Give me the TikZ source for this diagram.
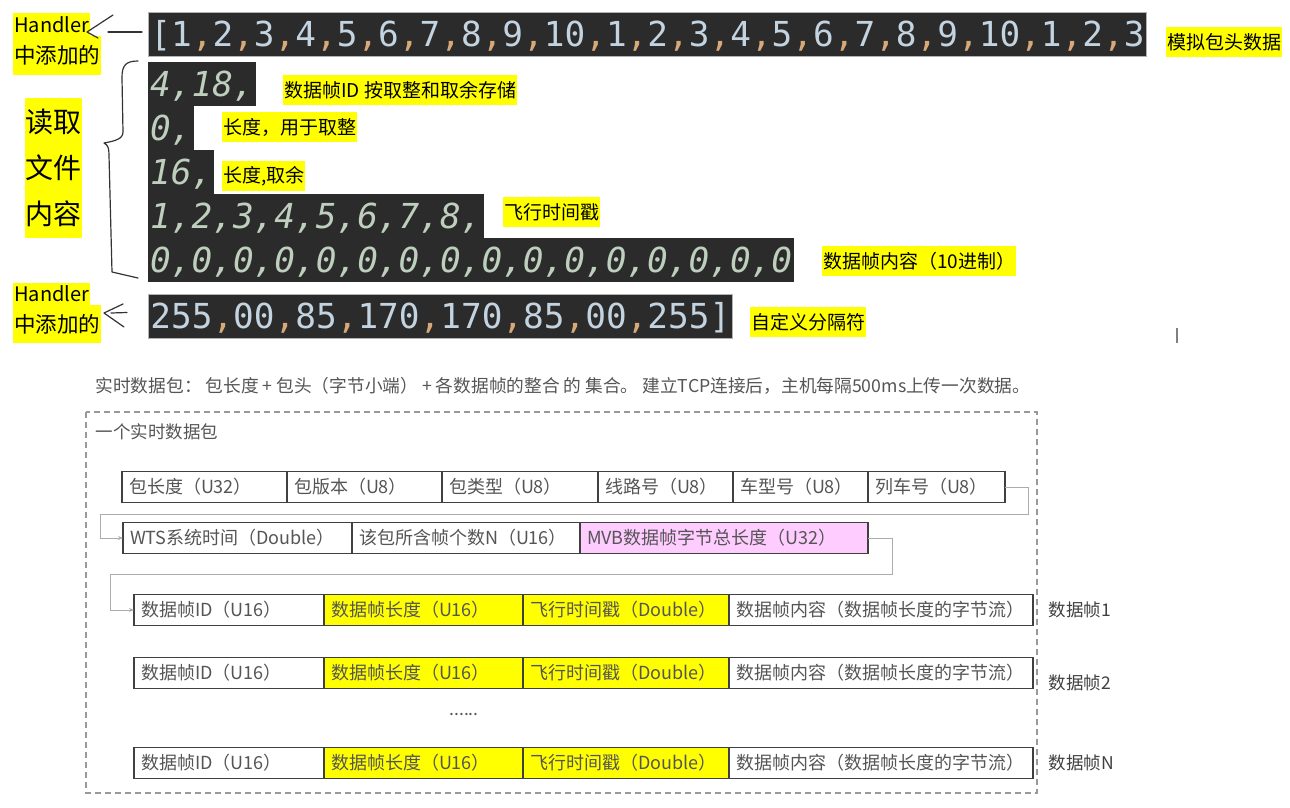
\documentclass[tikz,border=0pt]{standalone}
\usepackage{fontspec}
\setmainfont{Noto Sans CJK SC}
\newfontfamily\codefont{DejaVu Sans Mono}
\usetikzlibrary{positioning,arrows.meta}

\definecolor{codebg}{HTML}{2B2B2B}
\definecolor{numcol}{HTML}{C3D3E0}
\definecolor{commacol}{HTML}{D9A878}
\definecolor{italcol}{HTML}{BECFBE}
\definecolor{hl}{HTML}{FFFF00}
\definecolor{celltext}{HTML}{555555}
\definecolor{pinkcell}{HTML}{FFCCFF}

\newcommand\dcomma{\textcolor{commacol}{,}}
\newcommand\oneten{1\dcomma2\dcomma3\dcomma4\dcomma5\dcomma6\dcomma7\dcomma8\dcomma9\dcomma10}

\tikzset{
  codeblock/.style={fill=codebg, anchor=west, inner xsep=2pt, inner ysep=0pt,
    minimum height=44pt, text height=25pt, text depth=0pt},
  coderow/.style={codeblock, text=numcol, draw=gray!60, line width=0.8pt,
    font=\codefont\fontsize{34.4}{34.4}\selectfont},
  italrow/.style={codeblock, text=italcol,
    font=\codefont\itshape\fontsize{34.4}{34.4}\selectfont},
  hlnote/.style={fill=hl, anchor=west, inner xsep=1pt, inner ysep=0pt,
    minimum height=30pt, font=\fontsize{19}{19}\selectfont},
  fieldbox/.style={draw=black!75, line width=1.2pt, fill=white, anchor=west,
    outer sep=0pt, inner xsep=7pt, minimum height=31pt, text width=#1,
    align=left, text height=15pt, text depth=2pt, text=celltext,
    font=\fontsize{18}{18}\selectfont},
  framelab/.style={anchor=west, text=black!75, font=\fontsize{17.5}{17.5}\selectfont},
  flowline/.style={draw=gray!65, line width=1pt, -{Stealth[length=5pt,width=4pt]}},
  handline/.style={line width=1.2pt, black!80, line cap=round, line join=round},
}

\begin{document}
\begin{tikzpicture}[x=1pt,y=-1pt]
  \useasboundingbox (0,0) rectangle (1290,808);

  % code read from the file
  \node[coderow, minimum width=996pt] (hdr) at (148,34.5) {[\oneten\dcomma\oneten\dcomma1\dcomma2\dcomma3};
  \node[italrow] (fid) at (148,84) {4,18,};
  \node[italrow] (lenq) at (148,128) {0,};
  \node[italrow] (lenr) at (148,172) {16,};
  \node[italrow] (stamp) at (148,216) {1,2,3,4,5,6,7,8,};
  \node[italrow] (body) at (148,260) {0,0,0,0,0,0,0,0,0,0,0,0,0,0,0,0};
  \node[coderow] (sep) at (148,316) {255\dcomma00\dcomma85\dcomma170\dcomma170\dcomma85\dcomma00\dcomma255]};

  % notes
  \node[hlnote] (nhdr) at (1166,42) {模拟包头数据};
  \node[hlnote] (nfid) at (283,90) {数据帧ID 按取整和取余存储};
  \node[hlnote] (nlenq) at (222,127) {长度，用于取整};
  \node[hlnote] (nlenr) at (222,176) {长度,取余};
  \node[hlnote] (nstamp) at (503,212) {飞行时间戳};
  \node[hlnote] (nbody) at (822,261) {数据帧内容（10进制）};
  \node[hlnote] (nsep) at (750,322) {自定义分隔符};

  \node[hlnote, minimum height=23pt, font=\fontsize{20}{20}\selectfont] (handA) at (13,24.5) {Handler};
  \node[hlnote, minimum height=39pt, font=\fontsize{21.5}{21.5}\selectfont] (addA) at (13,55.5) {中添加的};
  \node[hlnote, minimum height=23pt, font=\fontsize{20}{20}\selectfont] (handB) at (13,294) {Handler};
  \node[hlnote, minimum height=38pt, font=\fontsize{21.5}{21.5}\selectfont] (addB) at (13,324) {中添加的};
  \node[fill=hl, anchor=north west, inner sep=0pt, minimum width=57pt, minimum height=140pt,
    align=center, font=\fontsize{28}{46}\selectfont] (readf) at (25,98) {读取\\文件\\内容};

  % hand drawn marks
  \draw[handline] (113,15) -- (87,32) -- (98,38);
  \draw[handline] (108,32) -- (142,32);
  \draw[handline] (138,61) .. controls (125,61) and (122,66) .. (122,78) -- (123,132)
    .. controls (123,139) and (115,141) .. (104,143)
    .. controls (108,145) and (109,148) .. (109,155) -- (112,272) -- (138,278);
  \draw[handline] (123,304) -- (104,313) -- (124,327);
  \draw[handline] (111,313) -- (127,312.5);
  \draw[gray, line width=1.2pt] (1177,328) -- (1177,343);

  % packet layout
  \node[anchor=west, text=celltext, font=\fontsize{17.7}{17.7}\selectfont] (title) at (92,386)
    {实时数据包： 包长度 + 包头（字节小端） + 各数据帧的整合 的 集合。 建立TCP连接后，主机每隔500ms上传一次数据。};
  \draw[gray!80, line width=1.3pt, dash pattern=on 6pt off 4pt] (86,412) rectangle (1037,793);
  \node[anchor=west, text=celltext, font=\fontsize{17.5}{17.5}\selectfont] (pkt) at (92,432) {一个实时数据包};

  \node[fieldbox=151pt] (baolen) at (122,487) {包长度（U32）};
  \node[fieldbox=141pt, right=0pt of baolen] (baover) {包版本（U8）};
  \node[fieldbox=142pt, right=0pt of baover] (baotype) {包类型（U8）};
  \node[fieldbox=121pt, right=0pt of baotype] (xianlu) {线路号（U8）};
  \node[fieldbox=121pt, right=0pt of xianlu] (chexing) {车型号（U8）};
  \node[fieldbox=123pt, right=0pt of chexing] (lieche) {列车号（U8）};

  \node[fieldbox=215pt] (wts) at (123,538) {WTS系统时间（Double）};
  \node[fieldbox=214pt, right=0pt of wts] (zhenshu) {该包所含帧个数N（U16）};
  \node[fieldbox=274pt, fill=pinkcell, right=0pt of zhenshu] (mvb) {MVB数据帧字节总长度（U32）};

  \foreach \i/\y/\n/\d in {1/610/1/0, 2/673/2/-10, 3/763/N/0} {
    \node[fieldbox=176pt] (id\i) at (134,\y) {数据帧ID（U16）};
    \node[fieldbox=185pt, fill=hl, right=0pt of id\i] (len\i) {数据帧长度（U16）};
    \node[fieldbox=192pt, fill=hl, right=0pt of len\i] (ts\i) {飞行时间戳（Double）};
    \node[fieldbox=290pt, right=0pt of ts\i] (data\i) {数据帧内容（数据帧长度的字节流）};
    \node[framelab, right=12pt of data\i, yshift=\d pt] (lab\i) {数据帧\n};
  }
  \node[text=celltext, font=\fontsize{17.5}{17.5}\selectfont] (dots) at (464,715) {......};

  \draw[flowline] (lieche.east) -- ++(23,0) |- ([xshift=-23pt,yshift=24pt]wts.west) |- (wts.west);
  \draw[flowline] (mvb.east) -- ++(24,0) |- ([xshift=-24pt,yshift=36pt]id1.west) |- (id1.west);
\end{tikzpicture}
\end{document}
